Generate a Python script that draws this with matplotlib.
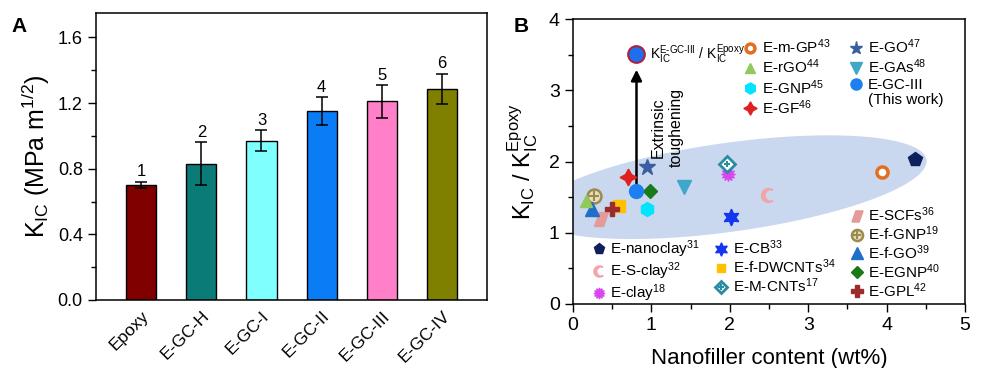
import numpy as np
import matplotlib
matplotlib.use('Agg')
import matplotlib.pyplot as plt
from matplotlib.path import Path
from matplotlib.patches import Polygon
from matplotlib.lines import Line2D
from matplotlib.ticker import MultipleLocator, FormatStrFormatter

plt.rcParams['font.family'] = ['Liberation Sans', 'DejaVu Sans']
plt.rcParams['mathtext.fontset'] = 'custom'
plt.rcParams['mathtext.rm'] = 'Liberation Sans'
plt.rcParams['mathtext.it'] = 'Liberation Sans:italic'
plt.rcParams['mathtext.bf'] = 'Liberation Sans:bold'
plt.rcParams['mathtext.default'] = 'regular'

# ---- panel A data ----
samples = ['Epoxy', 'E-GC-H', 'E-GC-I', 'E-GC-II', 'E-GC-III', 'E-GC-IV']
kic = [0.70, 0.83, 0.97, 1.15, 1.21, 1.285]
kic_err = [0.02, 0.13, 0.065, 0.085, 0.10, 0.093]
bar_tags = ['1', '2', '3', '4', '5', '6']
bar_colors = ['#800000', '#0b7b78', '#80ffff', '#0a7cf5', '#ff80c8', '#808000']

# ---- panel B data ----
fillers = ['E-nanoclay', 'E-S-clay', 'E-clay', 'E-CB', 'E-f-DWCNTs', 'E-M-CNTs',
           'E-SCFs', 'E-f-GNP', 'E-f-GO', 'E-EGNP', 'E-GPL',
           'E-m-GP', 'E-rGO', 'E-GNP', 'E-GF', 'E-GO', 'E-GAs', 'E-GC-III']
refs = ['31', '32', '18', '33', '34', '17', '36', '19', '39', '40', '42',
        '43', '44', '45', '46', '47', '48', '']
content = [4.36, 2.49, 1.98, 2.02, 0.59, 1.96, 0.36, 0.27, 0.24, 0.98, 0.50,
           3.94, 0.16, 0.94, 0.70, 0.94, 1.41, 0.81]
ratio = [2.03, 1.53, 1.83, 1.22, 1.38, 1.97, 1.20, 1.52, 1.34, 1.58, 1.33,
         1.86, 1.45, 1.33, 1.79, 1.92, 1.64, 1.58]
this_work_content = 0.81
this_work_ratio = 3.51
arrow_top = 3.29

# custom marker shapes
th_out = np.radians(np.linspace(50, 310, 40))
th_in = np.radians(np.linspace(292.4, 67.6, 40))
crescent = Path(np.vstack([np.c_[np.cos(th_out), np.sin(th_out)],
                           np.c_[0.328 + 0.828 * np.cos(th_in), 0.828 * np.sin(th_in)]]))
slanted = Path([(-1, -1), (0.3, -1), (1, 1), (-0.3, 1), (-1, -1)])

styles = {
    'E-nanoclay': dict(marker='p', color='#0d1f5c', ms=10),
    'E-S-clay': dict(marker=crescent, color='#f2a5a8', ms=10),
    'E-clay': dict(marker=(12, 1, 0), color='#d946ef', ms=10),
    'E-CB': dict(marker=(6, 1, 0), color='#1436f0', ms=12),
    'E-f-DWCNTs': dict(marker='s', color='#ffc000', ms=8),
    'E-M-CNTs': dict(marker='D', color='#2a8ca0', ms=8, mfc='white', mew=2),
    'E-SCFs': dict(marker=slanted, color='#e59a9a', ms=10),
    'E-f-GNP': dict(marker='o', color='#9c8a50', ms=10, mfc='#e8dfbf', mew=1.8),
    'E-f-GO': dict(marker='^', color='#1f6fc8', ms=10),
    'E-EGNP': dict(marker='D', color='#1a7a1a', ms=7.5),
    'E-GPL': dict(marker='P', color='#9c2c2c', ms=10),
    'E-m-GP': dict(marker='o', color='#e07020', ms=8, mfc='white', mew=2.5),
    'E-rGO': dict(marker='^', color='#8fca5a', ms=9),
    'E-GNP': dict(marker='h', color='#00e5ff', ms=10),
    'E-GF': dict(marker=(4, 1, 0), color='#e02020', ms=12),
    'E-GO': dict(marker='*', color='#3a5fa0', ms=12),
    'E-GAs': dict(marker='v', color='#3fa8c8', ms=10),
    'E-GC-III': dict(marker='o', color='#1e7ff0', ms=10),
}
crossed = {'E-M-CNTs': 5, 'E-f-GNP': 7}

fig = plt.figure(figsize=(9.84, 3.68), dpi=100)

# ================= panel A =================
axA = fig.add_axes([0.0976, 0.185, 0.3974, 0.78])
pos = np.arange(1, len(samples) + 1)
axA.bar(pos, kic, width=0.5, color=bar_colors, edgecolor='black', linewidth=1.0, zorder=2)
axA.errorbar(pos, kic, yerr=kic_err, fmt='none', ecolor='black', elinewidth=1.1,
             capsize=4, capthick=1.1, zorder=3)
for p, v, e, t in zip(pos, kic, kic_err, bar_tags):
    axA.text(p, v + e + 0.015, t, ha='center', va='bottom', fontsize=12)
axA.set_xlim(0.25, 6.75)
axA.set_ylim(0, 1.75)
axA.yaxis.set_major_locator(MultipleLocator(0.4))
axA.yaxis.set_minor_locator(MultipleLocator(0.2))
axA.yaxis.set_major_formatter(FormatStrFormatter('%.1f'))
axA.set_xticks(pos)
axA.set_xticklabels(samples, rotation=45, ha='right', rotation_mode='anchor', fontsize=12.5)
axA.tick_params(axis='x', length=0, pad=6)
axA.tick_params(axis='y', which='major', direction='out', length=6, width=1, labelsize=13)
axA.tick_params(axis='y', which='minor', direction='out', length=3.5, width=1)
axA.set_ylabel(r'K$_{IC}$ (MPa m$^{1/2}$)', fontsize=18, labelpad=4)
for s in axA.spines.values():
    s.set_linewidth(1.1)
fig.text(0.012, 0.955, 'A', fontsize=15, fontweight='bold', va='top')

# ================= panel B =================
axB = fig.add_axes([0.5823, 0.174, 0.3984, 0.774])
axB.set_xlim(0, 5)
axB.set_ylim(0, 4)

# shaded region behind literature data
t = np.linspace(0, 2 * np.pi, 300)
ex = 2.0 + 2.51 * np.cos(t)
ey = 1.64 + 0.365 * np.cos(t) + 0.63 * np.sin(t)
axB.add_patch(Polygon(np.c_[ex, ey], closed=True, facecolor='#c9d8ef',
                      edgecolor='none', zorder=0))

axB.annotate('', xy=(this_work_content, arrow_top), xytext=(this_work_content, ratio[-1]),
             arrowprops=dict(arrowstyle='-|>', color='black', lw=1.8, mutation_scale=16,
                             shrinkA=0, shrinkB=0), zorder=1)
axB.text(1.2, 2.48, 'Extrinsic\ntoughening', rotation=90, ha='center', va='center',
         fontsize=11.5, multialignment='center')

handles = {}
for name, ref, xv, yv in zip(fillers, refs, content, ratio):
    st = dict(styles[name])
    lbl = name + (r'$^{%s}$' % ref if ref else '')
    h = axB.plot([xv], [yv], linestyle='none', mec=st['color'],
                 mfc=st.pop('mfc', st['color']), **{k: v for k, v in st.items() if k != 'color'},
                 zorder=3)[0]
    if name in crossed:
        h2 = axB.plot([xv], [yv], linestyle='none', marker='+', color=styles[name]['color'],
                      ms=crossed[name], mew=1.5, zorder=4)[0]
        handles[name] = ((h, h2), lbl)
    else:
        handles[name] = (h, lbl)

axB.plot([this_work_content], [this_work_ratio], linestyle='none', marker='o', ms=12,
         mfc='#1e6ff0', mec='#b02040', mew=1.5, zorder=3)
hy = '\u2010'
axB.text(this_work_content + 0.17, this_work_ratio,
         r'K$_{IC}^{E%sGC%sIII}$ / K$_{IC}^{Epoxy}$' % (hy, hy),
         va='center', ha='left', fontsize=10)

blank = Line2D([], [], linestyle='none')
leg_kw = dict(frameon=False, fontsize=11, handlelength=0.8, handletextpad=0.35,
              markerscale=0.8, borderpad=0, borderaxespad=0)

top_names = ['E-m-GP', 'E-rGO', 'E-GNP', 'E-GF', 'E-GO', 'E-GAs', 'E-GC-III']
top_h = [handles[n][0] for n in top_names] + [blank]
top_l = [handles[n][1] for n in top_names] + ['(This work)']
leg1 = axB.legend(top_h, top_l, loc='upper left', bbox_to_anchor=(0.437, 0.935), ncol=2,
                  labelspacing=0.1, columnspacing=1.3, **leg_kw)
axB.add_artist(leg1)

bot_cols = [['', '', 'E-nanoclay', 'E-S-clay', 'E-clay'],
            ['', '', 'E-CB', 'E-f-DWCNTs', 'E-M-CNTs'],
            ['E-SCFs', 'E-f-GNP', 'E-f-GO', 'E-EGNP', 'E-GPL']]
bot_h, bot_l = [], []
for col in bot_cols:
    for n in col:
        bot_h.append(handles[n][0] if n else blank)
        bot_l.append(handles[n][1] if n else '')
axB.legend(bot_h, bot_l, loc='lower left', bbox_to_anchor=(0.05, 0.0), ncol=3,
           labelspacing=0.02, columnspacing=1.0, **leg_kw)

axB.xaxis.set_major_locator(MultipleLocator(1))
axB.xaxis.set_minor_locator(MultipleLocator(0.5))
axB.yaxis.set_major_locator(MultipleLocator(1))
axB.yaxis.set_minor_locator(MultipleLocator(0.5))
axB.tick_params(which='major', direction='out', length=6, width=1, labelsize=14)
axB.tick_params(which='minor', direction='out', length=3.5, width=1)
axB.set_xlabel('Nanofiller content (wt%)', fontsize=16, labelpad=10)
axB.set_ylabel(r'K$_{IC}$ / K$_{IC}^{Epoxy}$', fontsize=17, labelpad=6)
for s in axB.spines.values():
    s.set_linewidth(1.1)
fig.text(0.522, 0.955, 'B', fontsize=15, fontweight='bold', va='top')

fig.savefig('out.png', dpi=100)
